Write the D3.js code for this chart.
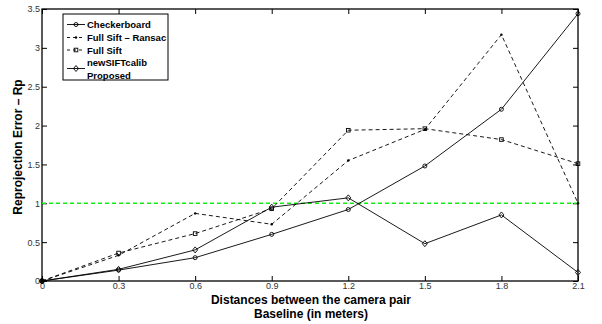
<!DOCTYPE html>
<html>
<head>
<meta charset="utf-8">
<script src="https://cdn.jsdelivr.net/npm/d3@7"></script>
<style>
  body { margin: 0; background: #fff; }
  text { font-family: "Liberation Sans", Arial, sans-serif; }
</style>
</head>
<body>
<script>
// data
var baseline = [0, 0.3, 0.6, 0.9, 1.2, 1.5, 1.8, 2.1];
var checkerboard = [0, 0.14, 0.30, 0.60, 0.92, 1.48, 2.21, 3.44];
var siftRansac = [0, 0.33, 0.87, 0.73, 1.55, 1.95, 3.17, 1.0];
var fullSift = [0, 0.36, 0.61, 0.93, 1.94, 1.96, 1.82, 1.51];
var newSift = [0, 0.15, 0.40, 0.95, 1.07, 0.48, 0.85, 0.11];
var xTicks = [0, 0.3, 0.6, 0.9, 1.2, 1.5, 1.8, 2.1];
var yTicks = [0, 0.5, 1, 1.5, 2, 2.5, 3, 3.5];
var threshold = 1;

var width = 602, height = 324;
var mLeft = 42, mRight = 578, mTop = 9, mBottom = 281;

var svg = d3.select("body").append("svg")
    .attr("width", width)
    .attr("height", height);

var x = d3.scaleLinear().domain([0, 2.1]).range([mLeft, mRight]);
var y = d3.scaleLinear().domain([0, 3.5]).range([mBottom, mTop]);

var series = [
  {name: ["Checkerboard"], vals: checkerboard, dash: null, marker: "circle"},
  {name: ["Full Sift \u2013 Ransac"], vals: siftRansac, dash: "4,3", marker: "star"},
  {name: ["Full Sift"], vals: fullSift, dash: "4,3", marker: "square"},
  {name: ["newSIFTcalib", "Proposed"], vals: newSift, dash: null, marker: "diamond"}
];

// axes, ticks inward
var tickFmt = function(d) { return d3.format("")(d); };
svg.append("g").attr("transform", "translate(0," + mBottom + ")")
  .call(d3.axisBottom(x).tickValues(xTicks).tickSizeInner(-5).tickSizeOuter(0).tickPadding(2).tickFormat(tickFmt));
svg.append("g").attr("transform", "translate(" + mLeft + ",0)")
  .call(d3.axisLeft(y).tickValues(yTicks).tickSizeInner(-5).tickSizeOuter(0).tickPadding(2).tickFormat(tickFmt));
svg.append("g").attr("transform", "translate(0," + mTop + ")")
  .call(d3.axisTop(x).tickValues(xTicks).tickSizeInner(-5).tickSizeOuter(0).tickFormat(""));
svg.append("g").attr("transform", "translate(" + mRight + ",0)")
  .call(d3.axisRight(y).tickValues(yTicks).tickSizeInner(-5).tickSizeOuter(0).tickFormat(""));

svg.selectAll(".tick text").attr("font-size", 9).attr("fill", "#333")
  .style("font-family", "'Liberation Sans', Arial, sans-serif");
svg.selectAll(".domain").remove();
svg.selectAll(".tick line").attr("stroke", "#000");

svg.append("rect")
  .attr("x", mLeft).attr("y", mTop)
  .attr("width", mRight - mLeft).attr("height", mBottom - mTop)
  .attr("fill", "none").attr("stroke", "#000").attr("stroke-width", 1.3);

// threshold line
svg.append("line")
  .attr("x1", x(0)).attr("x2", x(2.1))
  .attr("y1", y(threshold)).attr("y2", y(threshold))
  .attr("stroke", "#11ee11").attr("stroke-width", 1.6)
  .attr("stroke-dasharray", "4,3");

var line = d3.line()
  .x(function(d, i) { return x(baseline[i]); })
  .y(function(d) { return y(d); });

function drawMarker(g, type, cx, cy) {
  if (type == "circle") {
    g.append("circle").attr("cx", cx).attr("cy", cy).attr("r", 2)
      .attr("fill", "none").attr("stroke", "#000").attr("stroke-width", 0.9);
  } else if (type == "square") {
    g.append("rect").attr("x", cx - 1.8).attr("y", cy - 1.8).attr("width", 3.6).attr("height", 3.6)
      .attr("fill", "none").attr("stroke", "#000").attr("stroke-width", 0.9);
  } else if (type == "diamond") {
    g.append("path")
      .attr("d", "M" + cx + "," + (cy - 3) + "L" + (cx + 2.5) + "," + cy + "L" + cx + "," + (cy + 3) + "L" + (cx - 2.5) + "," + cy + "Z")
      .attr("fill", "none").attr("stroke", "#000").attr("stroke-width", 0.9);
  } else {
    g.append("circle").attr("cx", cx).attr("cy", cy).attr("r", 1.2).attr("fill", "#000");
  }
}

series.forEach(function(s) {
  svg.append("path")
    .datum(s.vals)
    .attr("d", line)
    .attr("fill", "none")
    .attr("stroke", "#000")
    .attr("stroke-width", 0.9)
    .attr("stroke-dasharray", s.dash);
  var g = svg.append("g");
  s.vals.forEach(function(v, i) { drawMarker(g, s.marker, x(baseline[i]), y(v)); });
});

// legend
var lg = svg.append("g");
lg.append("rect").attr("x", 63).attr("y", 14).attr("width", 105).attr("height", 66)
  .attr("fill", "#fff").attr("stroke", "#000").attr("stroke-width", 1);
var rowY = [24.5, 37.5, 50, 68.5];
series.forEach(function(s, i) {
  var yy = rowY[i];
  lg.append("line").attr("x1", 67).attr("x2", 85).attr("y1", yy).attr("y2", yy)
    .attr("stroke", "#000").attr("stroke-width", 0.9).attr("stroke-dasharray", s.dash ? "3,3" : null);
  drawMarker(lg, s.marker, 76, yy);
  var t = lg.append("text").attr("x", 87).attr("font-size", 9.5).attr("font-weight", "bold");
  if (s.name.length == 1) {
    t.attr("y", yy + 3.5).text(s.name[0]);
  } else {
    t.append("tspan").attr("x", 87).attr("y", yy - 3).text(s.name[0]);
    t.append("tspan").attr("x", 87).attr("y", yy + 10).text(s.name[1]);
  }
});

// axis titles
svg.append("text").attr("x", 311).attr("y", 304).attr("text-anchor", "middle")
  .attr("font-size", 12).attr("font-weight", "bold").text("Distances between the camera pair");
svg.append("text").attr("x", 311).attr("y", 318).attr("text-anchor", "middle")
  .attr("font-size", 12).attr("font-weight", "bold").text("Baseline (in meters)");
svg.append("text")
  .attr("transform", "translate(22,147) rotate(-90)")
  .attr("text-anchor", "middle")
  .attr("font-size", 12).attr("font-weight", "bold").text("Reprojection Error \u2013 Rp");
</script>
</body>
</html>
